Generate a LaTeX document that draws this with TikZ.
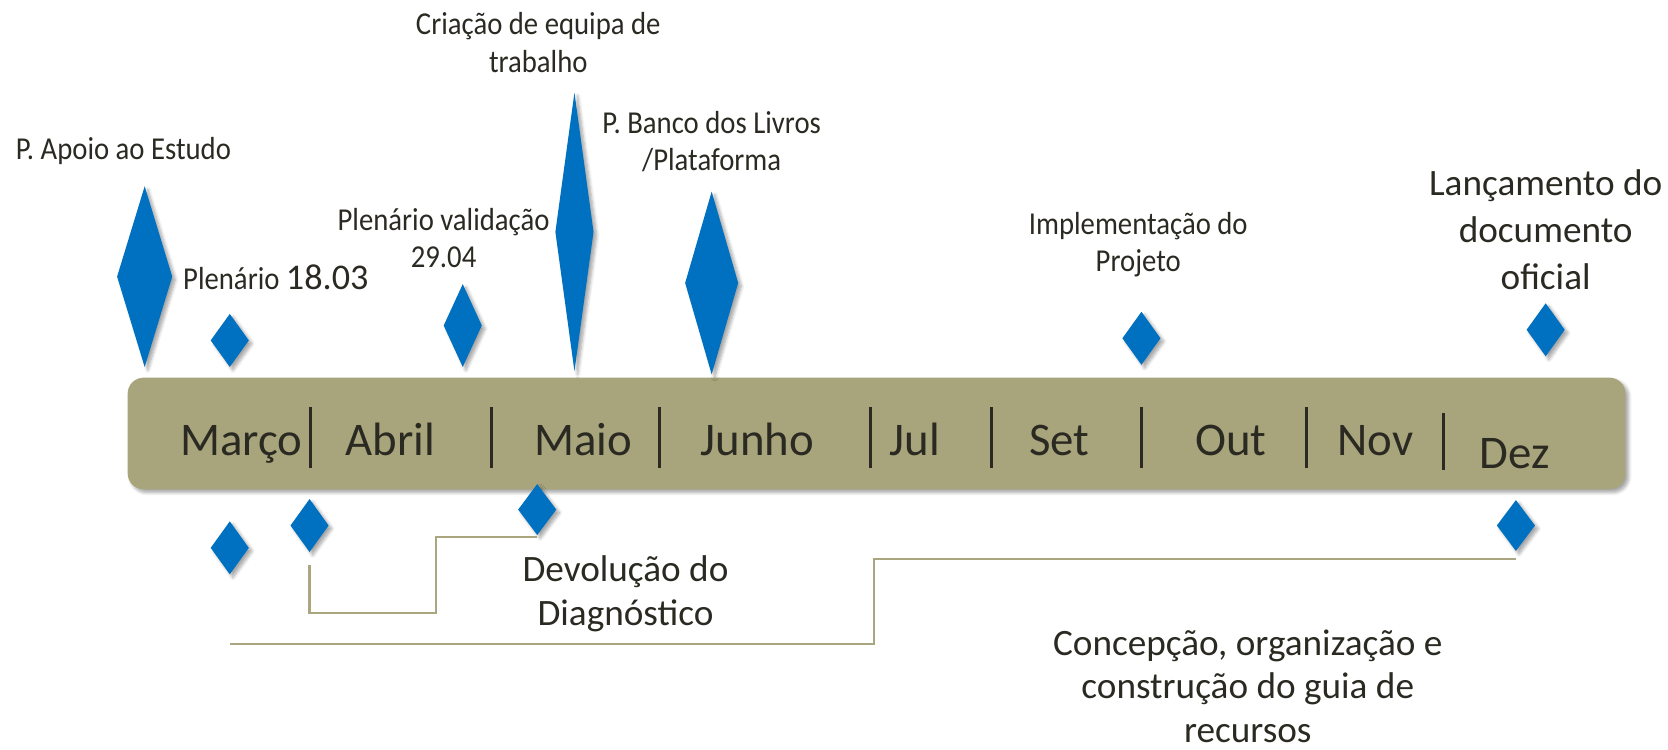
\documentclass[tikz,border=0pt]{standalone}
\usepackage{fontspec}
\setmainfont{Carlito}
\newfontfamily\condfont[FakeStretch=0.9]{Carlito}
\usetikzlibrary{shapes.geometric,shadows.blur,calc}
\definecolor{barfill}{HTML}{A8A47C}
\definecolor{linecol}{HTML}{A9A680}
\definecolor{txt}{HTML}{2B2A22}
\definecolor{dblue}{HTML}{0070C0}
\tikzset{
  shd/.style={blur shadow={shadow xshift=3pt,shadow yshift=-3pt,shadow opacity=35,shadow blur steps=6,shadow blur radius=3pt}},
  mk/.style={diamond,fill=dblue,draw=none,inner sep=0pt,shd},
  bar/.style={rectangle,fill=barfill,draw=none,rounded corners=15pt,inner sep=0pt,shd},
  month/.style={text=txt,font=\fontsize{44}{50}\selectfont,anchor=base,inner sep=0pt},
  sep/.style={draw=txt,line width=3pt},
  small/.style={text=txt,font=\condfont\fontsize{30}{35}\selectfont,align=center,inner sep=0pt},
  big/.style={text=txt,font=\fontsize{35}{42}\selectfont,align=center,inner sep=0pt},
  conn/.style={draw=linecol,line width=2pt},
}
\begin{document}
\begin{tikzpicture}[x=1pt,y=-1pt]
\useasboundingbox (0,0) rectangle (1568,705);
% bar
\node[bar,minimum width=1408pt,minimum height=105pt] (bar) at (824,407.5) {};
% month labels
\node[month] (mar) at (227,428) {Março};
\node[month] (abr) at (367,428) {Abril};
\node[month] (mai) at (548,428) {Maio};
\node[month] (jun) at (712,428) {Junho};
\node[month] (jul) at (860,428) {Jul};
\node[month] (set) at (996,428) {Set};
\node[month] (out) at (1157,428) {Out};
\node[month] (nov) at (1293,428) {Nov};
\node[month] (dez) at (1424,440) {Dez};
% separators
\foreach \xx in {292,462,620,818,932,1073,1228}{\draw[sep] (\xx,383) -- (\xx,440);}
\draw[sep] (1357,388) -- (1357,442);
% diamonds above
\node[mk,minimum width=52pt,minimum height=170pt] (d1) at (136,260) {};
\node[mk,minimum width=36pt,minimum height=50pt] (d2) at (216,320) {};
\node[mk,minimum width=36pt,minimum height=78pt] (d3) at (435,306) {};
\node[mk,minimum width=36pt,minimum height=262pt] (d4) at (540,218) {};
\node[mk,minimum width=50pt,minimum height=172pt] (d5) at (669,266) {};
\node[mk,minimum width=36pt,minimum height=50pt] (d6) at (1073,318) {};
\node[mk,minimum width=36pt,minimum height=50pt] (d7) at (1453,310) {};
% diamonds below
\node[mk,minimum width=36pt,minimum height=50pt] (d8) at (216,515) {};
\node[mk,minimum width=36pt,minimum height=50pt] (d9) at (291,494) {};
\node[mk,minimum width=36pt,minimum height=48pt] (d10) at (505,479) {};
\node[mk,minimum width=36pt,minimum height=48pt] (d11) at (1425,494) {};
% labels
\node[small] (lcri) at (506,40) {Criação de equipa de\\trabalho};
\node[small] (lapo) at (116,142) {P. Apoio ao Estudo};
\node[small] (lban) at (669,133) {P. Banco dos Livros\\/Plataforma};
\node[small] (lval) at (417,224) {Plenário validação\\29.04};
\node[small,anchor=base west] (lple) at (172,272) {Plenário {\normalfont\fontsize{34}{40}\selectfont 18.03}};
\node[small] (limp) at (1070,230) {Implementação do\\Projeto};
\node[big,font=\fontsize{35}{44}\selectfont] (llan) at (1453,216) {Lançamento do\\documento\\oficial};
\node[big,font=\fontsize{35}{41}\selectfont] (ldev) at (588,558) {Devolução do\\Diagnóstico};
\node[big,font=\fontsize{35}{41}\selectfont] (lcon) at (1173,645) {Concepção, organização e\\construção do guia de\\recursos};
% connectors
\coordinate (c1) at ($(d9.south)+(0,12)$);
\draw[conn] (c1) -- ++(0,45) -| ($(d10.south)+(-95,2)$) -- ($(d10.south)+(0,2)$);
\coordinate (c2) at ($(d8.south)+(0,65)$);
\coordinate (c3) at ($(d11.south)+(0,7)$);
\draw[conn] (c2) -| ($(c3)+(-603,0)$) -- (c3);
\end{tikzpicture}
\end{document}
